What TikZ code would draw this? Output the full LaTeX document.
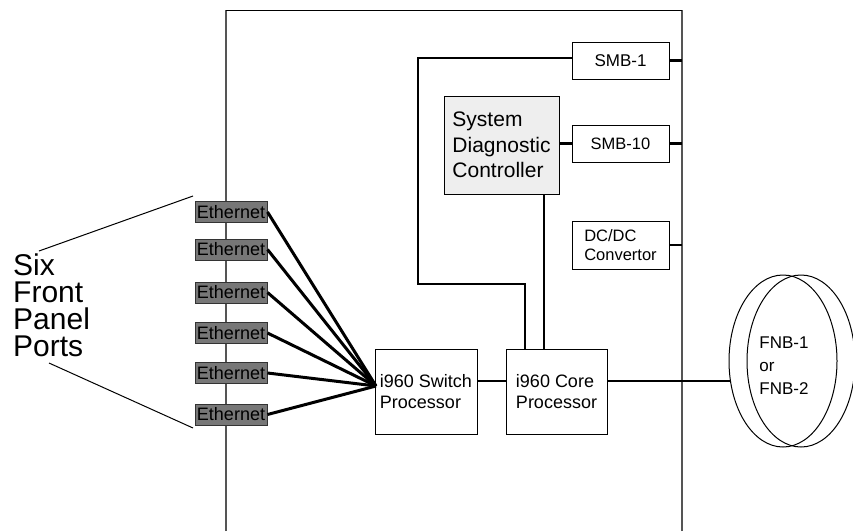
\documentclass[tikz,border=0pt]{standalone}
\usepackage{fontspec}
\setmainfont{Liberation Sans}
\definecolor{wallgray}{HTML}{555555}
\definecolor{ethfill}{HTML}{777777}
\definecolor{ethdraw}{HTML}{333333}
\definecolor{sdcfill}{HTML}{EEEEEE}
\begin{document}
\begin{tikzpicture}[x=1pt,y=-1pt,
  box/.style={draw=black, line width=1pt, fill=white, inner sep=0pt, align=left},
  eth/.style={draw=ethdraw, line width=1pt, fill=ethfill, inner sep=0pt,
    minimum width=72, minimum height=21, font=\fontsize{18}{20}\selectfont},
  wall/.style={draw=wallgray, line width=2pt},
  thickwire/.style={draw=black, line width=2.3pt},
  ethwire/.style={draw=black, line width=3pt},
  thinline/.style={draw=black, line width=1pt}
]
\useasboundingbox (0,0) rectangle (853,531);
% enclosure
\coordinate (wallL) at (226,0);
\coordinate (wallR) at (682,0);
\draw[wall] (226,531) -- (226,10);
\draw[wall] (682,531) -- (682,10);
\draw[thinline] (226,10) -- (682,10);

% boxes
\node[box, minimum width=97, minimum height=37, font=\fontsize{17}{20}\selectfont] (smb1) at (620.5,60.5) {SMB-1};
\node[box, minimum width=97, minimum height=37, font=\fontsize{16.5}{20}\selectfont] (smb10) at (620.5,143.5) {SMB-10};
\node[box, minimum width=97, minimum height=48, font=\fontsize{16.5}{19.5}\selectfont] (dcdc) at (620.5,245) {DC/DC\\Convertor};
\node[box, fill=sdcfill, minimum width=115, minimum height=98, font=\fontsize{21}{25.5}\selectfont] (sdc) at (501.5,145) {System\\Diagnostic\\Controller};
\node[box, minimum width=102, minimum height=85, font=\fontsize{18}{21.5}\selectfont] (switch) at (426,391.5) {i960 Switch\\Processor};
\node[box, minimum width=101, minimum height=85, font=\fontsize{18}{21.5}\selectfont] (core) at (556.5,391.5) {i960 Core\\Processor};

% FNB ellipses
\coordinate (fnbc1) at (783,361);
\coordinate (fnbc2) at (801,361);
\draw[thinline] (fnbc2) ellipse [x radius=54pt, y radius=86pt];
\draw[thinline] (fnbc1) ellipse [x radius=54pt, y radius=86pt];
\node[align=left, inner sep=0pt, font=\fontsize{17}{23}\selectfont] (fnbtxt) at (784,366) {FNB-1\\or\\FNB-2};
\coordinate (fnbL) at (731,381);

% right stubs
\draw[thickwire] (smb1.east) -- (smb1.east -| wallR);
\draw[thickwire] (smb10.east) -- (smb10.east -| wallR);
\draw[thickwire] (dcdc.east) -- (dcdc.east -| wallR);

% SDC to SMB-10
\draw[thickwire] (sdc.east |- smb10.west) -- (smb10.west);

% SMB-1 loop to core
\coordinate (loopA) at (418,284);
\coordinate (loopB) at (525,284);
\draw[thickwire] (smb1.west |- 0,58) -| (loopA) -- (loopB) -- (loopB |- core.north);
% SDC to core
\draw[thickwire] (sdc.south -| 544,0) -- (core.north -| 544,0);

% switch to core and core to FNB
\coordinate (bus) at (0,381);
\draw[thickwire] (switch.east |- bus) -- (core.west |- bus);
\draw[thickwire] (core.east |- bus) -- (fnbL);

% Ethernet ports
\node[eth] (e1) at (231,212) {Ethernet};
\node[eth] (e2) at (231,249.5) {Ethernet};
\node[eth] (e3) at (231,292.5) {Ethernet};
\node[eth] (e4) at (231,333) {Ethernet};
\node[eth] (e5) at (231,373) {Ethernet};
\node[eth] (e6) at (231,414.5) {Ethernet};
\coordinate (hub) at (376,386);
\foreach \e in {e1,e2,e3,e4,e5,e6} {
  \draw[ethwire] (\e.east) -- (hub);
}

% Six front panel ports label
\node[anchor=north west, align=left, inner sep=0pt, font=\fontsize{30}{27}\selectfont] (six) at (13,254) {Six\\Front\\Panel\\Ports};
\coordinate (topend) at (193,196);
\coordinate (botend) at (193,428);
\draw[thinline] (39,251) -- (topend);
\draw[thinline] (49,363) -- (botend);
\end{tikzpicture}
\end{document}
